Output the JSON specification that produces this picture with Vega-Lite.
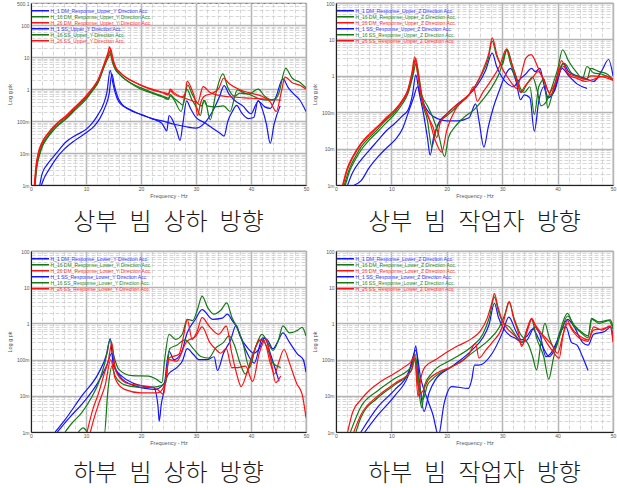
{
"$schema": "https://vega.github.io/schema/vega-lite/v6.json",
"padding": {"left": 7, "top": 0, "right": 5, "bottom": 0},
"config": {
 "font": "Liberation Sans",
 "view": {"stroke": "#333", "strokeWidth": 0.8},
 "axis": {"labelFontSize": 5, "labelColor": "#555", "titleFontSize": 5.5, "titleFontWeight": "normal", "titleColor": "#555", "domainColor": "#222", "ticks": false},
 "axisX": {"labelPadding": 1.5, "titlePadding": 1.5},
 "axisY": {"labelPadding": 2, "titlePadding": 4},
 "legend": {"orient": "none", "legendX": 0, "legendY": 5, "symbolType": "stroke", "symbolSize": 289, "symbolStrokeWidth": 1.5, "labelFontSize": 5, "labelLimit": 400, "labelOffset": 0.5, "clipHeight": 5.5, "rowPadding": -0.6, "padding": 0, "title": null},
 "title": {"font": "Noto Sans CJK KR", "fontSize": 24, "fontWeight": 300, "color": "#1a1a1a", "orient": "bottom", "offset": 12}
},
"datasets": {"d": [
{"p":1,"k":"1d","f":1.6,"v":0.001},{"p":1,"k":"1d","f":2,"v":0.0022},{"p":1,"k":"1d","f":3,"v":0.0045},{"p":1,"k":"1d","f":4.1,"v":0.0078},{"p":1,"k":"1d","f":5,"v":0.012},{"p":1,"k":"1d","f":6.2,"v":0.021},{"p":1,"k":"1d","f":8,"v":0.035},{"p":1,"k":"1d","f":10,"v":0.055},{"p":1,"k":"1d","f":11.2,"v":0.09},{"p":1,"k":"1d","f":12.2,"v":0.16},{"p":1,"k":"1d","f":13.2,"v":0.35},{"p":1,"k":"1d","f":13.8,"v":0.8},{"p":1,"k":"1d","f":14.4,"v":3.9},{"p":1,"k":"1d","f":14.9,"v":1.5},{"p":1,"k":"1d","f":15.3,"v":0.78},{"p":1,"k":"1d","f":15.9,"v":0.42},{"p":1,"k":"1d","f":17.1,"v":0.27},{"p":1,"k":"1d","f":18.5,"v":0.2},{"p":1,"k":"1d","f":20.1,"v":0.16},{"p":1,"k":"1d","f":22,"v":0.12},{"p":1,"k":"1d","f":24,"v":0.1},{"p":1,"k":"1d","f":26,"v":0.08},{"p":1,"k":"1d","f":28,"v":0.068},{"p":1,"k":"1d","f":30,"v":0.06},{"p":1,"k":"1d","f":31.5,"v":0.085},{"p":1,"k":"1d","f":33,"v":0.2},{"p":1,"k":"1d","f":34.3,"v":0.6},{"p":1,"k":"1d","f":35.1,"v":1.3},{"p":1,"k":"1d","f":36,"v":0.7},{"p":1,"k":"1d","f":37,"v":0.45},{"p":1,"k":"1d","f":38.5,"v":0.3},{"p":1,"k":"1d","f":40,"v":0.17},{"p":1,"k":"1d","f":41.3,"v":0.42},{"p":1,"k":"1d","f":42.5,"v":0.28},{"p":1,"k":"1d","f":43.5,"v":0.25},{"p":1,"k":"1d","f":44.5,"v":0.55},{"p":1,"k":"1d","f":45.8,"v":2.1},{"p":1,"k":"1d","f":46.8,"v":1.1},{"p":1,"k":"1d","f":47.8,"v":0.7},{"p":1,"k":"1d","f":48.9,"v":0.45},{"p":1,"k":"1d","f":50,"v":0.2},
{"p":1,"k":"1s","f":1.9,"v":0.001},{"p":1,"k":"1s","f":2.5,"v":0.0018},{"p":1,"k":"1s","f":3.5,"v":0.0035},{"p":1,"k":"1s","f":4.5,"v":0.0065},{"p":1,"k":"1s","f":6,"v":0.013},{"p":1,"k":"1s","f":8,"v":0.025},{"p":1,"k":"1s","f":10,"v":0.043},{"p":1,"k":"1s","f":11.5,"v":0.07},{"p":1,"k":"1s","f":12.5,"v":0.12},{"p":1,"k":"1s","f":13.5,"v":0.28},{"p":1,"k":"1s","f":14.2,"v":0.7},{"p":1,"k":"1s","f":14.7,"v":3.0},{"p":1,"k":"1s","f":15.2,"v":1.2},{"p":1,"k":"1s","f":15.8,"v":0.55},{"p":1,"k":"1s","f":16.6,"v":0.33},{"p":1,"k":"1s","f":18,"v":0.23},{"p":1,"k":"1s","f":20,"v":0.16},{"p":1,"k":"1s","f":22,"v":0.12},{"p":1,"k":"1s","f":23.8,"v":0.085},{"p":1,"k":"1s","f":24.7,"v":0.05},{"p":1,"k":"1s","f":25.1,"v":0.15},{"p":1,"k":"1s","f":25.6,"v":0.12},{"p":1,"k":"1s","f":26.5,"v":0.05},{"p":1,"k":"1s","f":27.1,"v":0.025},{"p":1,"k":"1s","f":27.6,"v":0.08},{"p":1,"k":"1s","f":28.3,"v":0.43},{"p":1,"k":"1s","f":29,"v":0.25},{"p":1,"k":"1s","f":30,"v":0.13},{"p":1,"k":"1s","f":31.5,"v":0.09},{"p":1,"k":"1s","f":33,"v":0.06},{"p":1,"k":"1s","f":34.5,"v":0.04},{"p":1,"k":"1s","f":35.1,"v":0.034},{"p":1,"k":"1s","f":35.8,"v":0.1},{"p":1,"k":"1s","f":36.6,"v":0.2},{"p":1,"k":"1s","f":37.4,"v":0.31},{"p":1,"k":"1s","f":38.3,"v":0.18},{"p":1,"k":"1s","f":39.5,"v":0.12},{"p":1,"k":"1s","f":40.5,"v":0.13},{"p":1,"k":"1s","f":41.3,"v":0.45},{"p":1,"k":"1s","f":42,"v":0.25},{"p":1,"k":"1s","f":42.8,"v":0.08},{"p":1,"k":"1s","f":43.5,"v":0.02},{"p":1,"k":"1s","f":44.2,"v":0.08},{"p":1,"k":"1s","f":45.3,"v":0.3},
{"p":1,"k":"16d","f":0.7,"v":0.001},{"p":1,"k":"16d","f":1,"v":0.0035},{"p":1,"k":"16d","f":1.5,"v":0.009},{"p":1,"k":"16d","f":2,"v":0.017},{"p":1,"k":"16d","f":3,"v":0.033},{"p":1,"k":"16d","f":4,"v":0.055},{"p":1,"k":"16d","f":5,"v":0.08},{"p":1,"k":"16d","f":6.2,"v":0.12},{"p":1,"k":"16d","f":8,"v":0.24},{"p":1,"k":"16d","f":10,"v":0.52},{"p":1,"k":"16d","f":11.2,"v":0.95},{"p":1,"k":"16d","f":12.2,"v":1.7},{"p":1,"k":"16d","f":13.4,"v":6},{"p":1,"k":"16d","f":14.3,"v":15},{"p":1,"k":"16d","f":14.8,"v":7},{"p":1,"k":"16d","f":15.3,"v":4.2},{"p":1,"k":"16d","f":16,"v":3},{"p":1,"k":"16d","f":17,"v":2.1},{"p":1,"k":"16d","f":18.3,"v":1.5},{"p":1,"k":"16d","f":20,"v":1.1},{"p":1,"k":"16d","f":22,"v":0.8},{"p":1,"k":"16d","f":24,"v":0.6},{"p":1,"k":"16d","f":25,"v":0.52},{"p":1,"k":"16d","f":25.3,"v":0.68},{"p":1,"k":"16d","f":26,"v":0.52},{"p":1,"k":"16d","f":27,"v":0.38},{"p":1,"k":"16d","f":27.6,"v":0.32},{"p":1,"k":"16d","f":28.5,"v":1.35},{"p":1,"k":"16d","f":29.3,"v":0.7},{"p":1,"k":"16d","f":30.2,"v":0.38},{"p":1,"k":"16d","f":31,"v":0.3},{"p":1,"k":"16d","f":31.6,"v":0.45},{"p":1,"k":"16d","f":32.6,"v":0.11},{"p":1,"k":"16d","f":33.5,"v":0.6},{"p":1,"k":"16d","f":34.9,"v":3.0},{"p":1,"k":"16d","f":35.8,"v":1.1},{"p":1,"k":"16d","f":37,"v":0.6},{"p":1,"k":"16d","f":38,"v":0.75},{"p":1,"k":"16d","f":39.5,"v":0.7},{"p":1,"k":"16d","f":41.3,"v":1.0},{"p":1,"k":"16d","f":42.5,"v":0.6},{"p":1,"k":"16d","f":44,"v":0.45},{"p":1,"k":"16d","f":45,"v":0.7},{"p":1,"k":"16d","f":46.3,"v":4.5},{"p":1,"k":"16d","f":47.5,"v":2.2},{"p":1,"k":"16d","f":49,"v":1.6},{"p":1,"k":"16d","f":50,"v":1.1},
{"p":1,"k":"16s","f":0.75,"v":0.001},{"p":1,"k":"16s","f":1,"v":0.003},{"p":1,"k":"16s","f":1.5,"v":0.008},{"p":1,"k":"16s","f":2,"v":0.015},{"p":1,"k":"16s","f":3,"v":0.03},{"p":1,"k":"16s","f":4,"v":0.05},{"p":1,"k":"16s","f":5,"v":0.075},{"p":1,"k":"16s","f":6.2,"v":0.11},{"p":1,"k":"16s","f":8,"v":0.22},{"p":1,"k":"16s","f":10,"v":0.48},{"p":1,"k":"16s","f":11.2,"v":0.9},{"p":1,"k":"16s","f":12.2,"v":1.6},{"p":1,"k":"16s","f":13.4,"v":5.5},{"p":1,"k":"16s","f":14.2,"v":11},{"p":1,"k":"16s","f":14.6,"v":13},{"p":1,"k":"16s","f":15,"v":6.5},{"p":1,"k":"16s","f":15.6,"v":3.8},{"p":1,"k":"16s","f":16.5,"v":2.5},{"p":1,"k":"16s","f":18,"v":1.6},{"p":1,"k":"16s","f":20,"v":1.0},{"p":1,"k":"16s","f":22,"v":0.75},{"p":1,"k":"16s","f":24,"v":0.56},{"p":1,"k":"16s","f":25,"v":0.48},{"p":1,"k":"16s","f":25.3,"v":0.62},{"p":1,"k":"16s","f":26,"v":0.47},{"p":1,"k":"16s","f":27.3,"v":0.2},{"p":1,"k":"16s","f":28.3,"v":1.0},{"p":1,"k":"16s","f":29.3,"v":0.45},{"p":1,"k":"16s","f":30.2,"v":0.25},{"p":1,"k":"16s","f":30.8,"v":0.15},{"p":1,"k":"16s","f":31.4,"v":0.45},{"p":1,"k":"16s","f":32,"v":0.3},{"p":1,"k":"16s","f":33.5,"v":0.28},{"p":1,"k":"16s","f":35,"v":0.3},{"p":1,"k":"16s","f":36.2,"v":0.2},{"p":1,"k":"16s","f":37.5,"v":0.95},{"p":1,"k":"16s","f":38.5,"v":0.8},{"p":1,"k":"16s","f":40,"v":0.65},{"p":1,"k":"16s","f":41.5,"v":0.5},{"p":1,"k":"16s","f":43,"v":0.45},{"p":1,"k":"16s","f":44.5,"v":0.5},
{"p":1,"k":"26d","f":0.6,"v":0.001},{"p":1,"k":"26d","f":0.9,"v":0.004},{"p":1,"k":"26d","f":1.3,"v":0.01},{"p":1,"k":"26d","f":1.9,"v":0.02},{"p":1,"k":"26d","f":3,"v":0.04},{"p":1,"k":"26d","f":4,"v":0.065},{"p":1,"k":"26d","f":5,"v":0.095},{"p":1,"k":"26d","f":6.2,"v":0.14},{"p":1,"k":"26d","f":8,"v":0.28},{"p":1,"k":"26d","f":10,"v":0.62},{"p":1,"k":"26d","f":11.2,"v":1.1},{"p":1,"k":"26d","f":12.2,"v":2},{"p":1,"k":"26d","f":13.4,"v":7},{"p":1,"k":"26d","f":14,"v":14},{"p":1,"k":"26d","f":14.3,"v":21},{"p":1,"k":"26d","f":14.7,"v":10},{"p":1,"k":"26d","f":15.3,"v":5},{"p":1,"k":"26d","f":16,"v":3.6},{"p":1,"k":"26d","f":17,"v":2.5},{"p":1,"k":"26d","f":18.3,"v":1.85},{"p":1,"k":"26d","f":20,"v":1.35},{"p":1,"k":"26d","f":22,"v":1.0},{"p":1,"k":"26d","f":24,"v":0.8},{"p":1,"k":"26d","f":25,"v":0.72},{"p":1,"k":"26d","f":25.3,"v":1.0},{"p":1,"k":"26d","f":26,"v":0.78},{"p":1,"k":"26d","f":27.5,"v":0.58},{"p":1,"k":"26d","f":28,"v":0.7},{"p":1,"k":"26d","f":28.4,"v":1.8},{"p":1,"k":"26d","f":29.2,"v":1.0},{"p":1,"k":"26d","f":29.8,"v":0.5},{"p":1,"k":"26d","f":30.3,"v":0.15},{"p":1,"k":"26d","f":30.8,"v":0.35},{"p":1,"k":"26d","f":31.5,"v":0.6},{"p":1,"k":"26d","f":33,"v":0.75},{"p":1,"k":"26d","f":34.2,"v":1.1},{"p":1,"k":"26d","f":35,"v":2.2},{"p":1,"k":"26d","f":36,"v":1.5},{"p":1,"k":"26d","f":38,"v":0.95},{"p":1,"k":"26d","f":40,"v":0.75},{"p":1,"k":"26d","f":42,"v":0.6},{"p":1,"k":"26d","f":43.5,"v":0.4},{"p":1,"k":"26d","f":44.6,"v":0.2},{"p":1,"k":"26d","f":45.5,"v":0.8},{"p":1,"k":"26d","f":46.2,"v":2.4},{"p":1,"k":"26d","f":47.5,"v":1.6},{"p":1,"k":"26d","f":49,"v":1.3},{"p":1,"k":"26d","f":50,"v":1.0},
{"p":1,"k":"26s","f":0.65,"v":0.001},{"p":1,"k":"26s","f":1,"v":0.004},{"p":1,"k":"26s","f":1.4,"v":0.01},{"p":1,"k":"26s","f":2,"v":0.02},{"p":1,"k":"26s","f":3,"v":0.038},{"p":1,"k":"26s","f":4,"v":0.06},{"p":1,"k":"26s","f":5,"v":0.09},{"p":1,"k":"26s","f":6.2,"v":0.13},{"p":1,"k":"26s","f":8,"v":0.26},{"p":1,"k":"26s","f":10,"v":0.58},{"p":1,"k":"26s","f":11.2,"v":1.05},{"p":1,"k":"26s","f":12.2,"v":1.9},{"p":1,"k":"26s","f":13.4,"v":6.5},{"p":1,"k":"26s","f":14.2,"v":13},{"p":1,"k":"26s","f":14.5,"v":18},{"p":1,"k":"26s","f":14.9,"v":9},{"p":1,"k":"26s","f":15.5,"v":4.5},{"p":1,"k":"26s","f":16.3,"v":3.2},{"p":1,"k":"26s","f":17.5,"v":2.2},{"p":1,"k":"26s","f":19,"v":1.6},{"p":1,"k":"26s","f":20,"v":1.3},{"p":1,"k":"26s","f":22,"v":0.95},{"p":1,"k":"26s","f":24,"v":0.76},{"p":1,"k":"26s","f":25,"v":0.66},{"p":1,"k":"26s","f":25.3,"v":0.9},{"p":1,"k":"26s","f":26,"v":0.7},{"p":1,"k":"26s","f":28,"v":0.52},{"p":1,"k":"26s","f":29.5,"v":0.42},{"p":1,"k":"26s","f":30.3,"v":0.38},{"p":1,"k":"26s","f":31.3,"v":1.2},{"p":1,"k":"26s","f":32.5,"v":0.8},{"p":1,"k":"26s","f":34,"v":0.65},{"p":1,"k":"26s","f":36,"v":0.58},{"p":1,"k":"26s","f":38,"v":0.55},{"p":1,"k":"26s","f":40,"v":0.52},{"p":1,"k":"26s","f":42,"v":0.5},{"p":1,"k":"26s","f":44,"v":0.47},{"p":1,"k":"26s","f":45.5,"v":0.45},

{"p":2,"k":"1d","f":2.1,"v":0.001},{"p":2,"k":"1d","f":3,"v":0.0022},{"p":2,"k":"1d","f":4.5,"v":0.0048},{"p":2,"k":"1d","f":6,"v":0.009},{"p":2,"k":"1d","f":7.6,"v":0.017},{"p":2,"k":"1d","f":9,"v":0.03},{"p":2,"k":"1d","f":10.6,"v":0.049},{"p":2,"k":"1d","f":12,"v":0.08},{"p":2,"k":"1d","f":13,"v":0.115},{"p":2,"k":"1d","f":13.8,"v":0.3},{"p":2,"k":"1d","f":14.4,"v":1.06},{"p":2,"k":"1d","f":15,"v":0.35},{"p":2,"k":"1d","f":15.8,"v":0.09},{"p":2,"k":"1d","f":16.5,"v":0.02},{"p":2,"k":"1d","f":17,"v":0.0066},{"p":2,"k":"1d","f":17.6,"v":0.02},{"p":2,"k":"1d","f":18.5,"v":0.05},{"p":2,"k":"1d","f":20,"v":0.09},{"p":2,"k":"1d","f":22,"v":0.17},{"p":2,"k":"1d","f":24,"v":0.3},{"p":2,"k":"1d","f":25.5,"v":0.55},{"p":2,"k":"1d","f":27,"v":1.4},{"p":2,"k":"1d","f":28.2,"v":4.2},{"p":2,"k":"1d","f":29,"v":1.8},{"p":2,"k":"1d","f":30,"v":0.9},{"p":2,"k":"1d","f":31,"v":0.6},{"p":2,"k":"1d","f":32,"v":0.5},{"p":2,"k":"1d","f":33,"v":0.75},{"p":2,"k":"1d","f":34.2,"v":1.1},{"p":2,"k":"1d","f":35.3,"v":1.6},{"p":2,"k":"1d","f":36,"v":1.3},{"p":2,"k":"1d","f":36.8,"v":1.6},{"p":2,"k":"1d","f":37.5,"v":0.6},{"p":2,"k":"1d","f":38.2,"v":0.25},{"p":2,"k":"1d","f":39,"v":0.3},{"p":2,"k":"1d","f":40,"v":0.8},{"p":2,"k":"1d","f":41,"v":2.2},{"p":2,"k":"1d","f":42,"v":1.3},{"p":2,"k":"1d","f":43.5,"v":1.0},{"p":2,"k":"1d","f":45,"v":0.85},{"p":2,"k":"1d","f":46.5,"v":0.7},{"p":2,"k":"1d","f":48,"v":1.4},{"p":2,"k":"1d","f":49.2,"v":2.8},{"p":2,"k":"1d","f":50,"v":1.0},
{"p":2,"k":"1s","f":3.3,"v":0.001},{"p":2,"k":"1s","f":4.5,"v":0.0013},{"p":2,"k":"1s","f":6,"v":0.003},{"p":2,"k":"1s","f":7.6,"v":0.006},{"p":2,"k":"1s","f":9,"v":0.01},{"p":2,"k":"1s","f":10.6,"v":0.017},{"p":2,"k":"1s","f":12,"v":0.035},{"p":2,"k":"1s","f":13,"v":0.093},{"p":2,"k":"1s","f":14,"v":0.25},{"p":2,"k":"1s","f":14.7,"v":0.5},{"p":2,"k":"1s","f":15.3,"v":0.3},{"p":2,"k":"1s","f":16,"v":0.15},{"p":2,"k":"1s","f":17,"v":0.09},{"p":2,"k":"1s","f":18.5,"v":0.065},{"p":2,"k":"1s","f":20,"v":0.058},{"p":2,"k":"1s","f":22,"v":0.058},{"p":2,"k":"1s","f":24,"v":0.07},{"p":2,"k":"1s","f":25.2,"v":0.17},{"p":2,"k":"1s","f":25.8,"v":0.06},{"p":2,"k":"1s","f":26.7,"v":0.011},{"p":2,"k":"1s","f":27.5,"v":0.04},{"p":2,"k":"1s","f":28.5,"v":0.15},{"p":2,"k":"1s","f":29.5,"v":0.4},{"p":2,"k":"1s","f":30.5,"v":1.0},{"p":2,"k":"1s","f":31.5,"v":1.6},{"p":2,"k":"1s","f":32.5,"v":0.7},{"p":2,"k":"1s","f":33.3,"v":0.22},{"p":2,"k":"1s","f":34,"v":0.3},{"p":2,"k":"1s","f":35,"v":0.25},{"p":2,"k":"1s","f":35.8,"v":0.03},{"p":2,"k":"1s","f":36.6,"v":0.2},{"p":2,"k":"1s","f":37.5,"v":0.5},{"p":2,"k":"1s","f":38.3,"v":0.25},{"p":2,"k":"1s","f":39.5,"v":0.4},{"p":2,"k":"1s","f":40.8,"v":1.6},{"p":2,"k":"1s","f":42,"v":1.0},{"p":2,"k":"1s","f":43.5,"v":0.6},{"p":2,"k":"1s","f":45.3,"v":0.45},
{"p":2,"k":"16d","f":1.5,"v":0.001},{"p":2,"k":"16d","f":2.5,"v":0.003},{"p":2,"k":"16d","f":3.5,"v":0.006},{"p":2,"k":"16d","f":4.5,"v":0.011},{"p":2,"k":"16d","f":6,"v":0.02},{"p":2,"k":"16d","f":7.6,"v":0.035},{"p":2,"k":"16d","f":9,"v":0.06},{"p":2,"k":"16d","f":10.6,"v":0.1},{"p":2,"k":"16d","f":12,"v":0.2},{"p":2,"k":"16d","f":13,"v":0.38},{"p":2,"k":"16d","f":13.8,"v":1.0},{"p":2,"k":"16d","f":14.3,"v":2.6},{"p":2,"k":"16d","f":14.8,"v":1.0},{"p":2,"k":"16d","f":15.5,"v":0.2},{"p":2,"k":"16d","f":16.5,"v":0.06},{"p":2,"k":"16d","f":17.3,"v":0.011},{"p":2,"k":"16d","f":18,"v":0.03},{"p":2,"k":"16d","f":19,"v":0.06},{"p":2,"k":"16d","f":20,"v":0.08},{"p":2,"k":"16d","f":22,"v":0.15},{"p":2,"k":"16d","f":24,"v":0.3},{"p":2,"k":"16d","f":26,"v":0.9},{"p":2,"k":"16d","f":27.5,"v":3},{"p":2,"k":"16d","f":28.2,"v":9},{"p":2,"k":"16d","f":29,"v":3.5},{"p":2,"k":"16d","f":30,"v":2},{"p":2,"k":"16d","f":30.8,"v":5},{"p":2,"k":"16d","f":31.5,"v":2.2},{"p":2,"k":"16d","f":32.5,"v":0.8},{"p":2,"k":"16d","f":33.5,"v":0.35},{"p":2,"k":"16d","f":34.5,"v":0.6},{"p":2,"k":"16d","f":35.5,"v":0.9},{"p":2,"k":"16d","f":36.3,"v":0.4},{"p":2,"k":"16d","f":37,"v":0.15},{"p":2,"k":"16d","f":38,"v":0.2},{"p":2,"k":"16d","f":39,"v":0.5},{"p":2,"k":"16d","f":40,"v":1.5},{"p":2,"k":"16d","f":40.9,"v":5.2},{"p":2,"k":"16d","f":42,"v":2.5},{"p":2,"k":"16d","f":43.5,"v":1.2},{"p":2,"k":"16d","f":44.5,"v":0.85},{"p":2,"k":"16d","f":45.3,"v":1.8},{"p":2,"k":"16d","f":46.5,"v":1.2},{"p":2,"k":"16d","f":48,"v":1.1},{"p":2,"k":"16d","f":50,"v":0.8},
{"p":2,"k":"16s","f":1.7,"v":0.001},{"p":2,"k":"16s","f":2.5,"v":0.0025},{"p":2,"k":"16s","f":3.5,"v":0.005},{"p":2,"k":"16s","f":4.5,"v":0.009},{"p":2,"k":"16s","f":6,"v":0.017},{"p":2,"k":"16s","f":7.6,"v":0.03},{"p":2,"k":"16s","f":9,"v":0.05},{"p":2,"k":"16s","f":10.6,"v":0.088},{"p":2,"k":"16s","f":12,"v":0.17},{"p":2,"k":"16s","f":13,"v":0.33},{"p":2,"k":"16s","f":13.8,"v":0.9},{"p":2,"k":"16s","f":14.5,"v":2.2},{"p":2,"k":"16s","f":15,"v":0.9},{"p":2,"k":"16s","f":15.5,"v":0.3},{"p":2,"k":"16s","f":16.5,"v":0.15},{"p":2,"k":"16s","f":17.5,"v":0.07},{"p":2,"k":"16s","f":18.5,"v":0.025},{"p":2,"k":"16s","f":19.6,"v":0.006},{"p":2,"k":"16s","f":20.3,"v":0.02},{"p":2,"k":"16s","f":21.5,"v":0.04},{"p":2,"k":"16s","f":23,"v":0.07},{"p":2,"k":"16s","f":25,"v":0.12},{"p":2,"k":"16s","f":26.5,"v":0.22},{"p":2,"k":"16s","f":28,"v":0.45},{"p":2,"k":"16s","f":29.5,"v":1.2},{"p":2,"k":"16s","f":30.9,"v":5.3},{"p":2,"k":"16s","f":31.8,"v":2},{"p":2,"k":"16s","f":32.7,"v":0.8},{"p":2,"k":"16s","f":33.3,"v":0.45},{"p":2,"k":"16s","f":34,"v":0.35},{"p":2,"k":"16s","f":35,"v":0.5},{"p":2,"k":"16s","f":35.8,"v":0.085},{"p":2,"k":"16s","f":36.6,"v":0.5},{"p":2,"k":"16s","f":37.6,"v":0.8},{"p":2,"k":"16s","f":38.2,"v":0.13},{"p":2,"k":"16s","f":39,"v":0.3},{"p":2,"k":"16s","f":40.3,"v":1.5},{"p":2,"k":"16s","f":41.2,"v":2.2},{"p":2,"k":"16s","f":42.5,"v":1.2},{"p":2,"k":"16s","f":44,"v":0.9},{"p":2,"k":"16s","f":45.3,"v":0.8},{"p":2,"k":"16s","f":46,"v":1.6},{"p":2,"k":"16s","f":47.5,"v":1.3},{"p":2,"k":"16s","f":49,"v":1.1},{"p":2,"k":"16s","f":50,"v":0.75},
{"p":2,"k":"26d","f":1.2,"v":0.001},{"p":2,"k":"26d","f":2,"v":0.0028},{"p":2,"k":"26d","f":3,"v":0.006},{"p":2,"k":"26d","f":4.5,"v":0.014},{"p":2,"k":"26d","f":6,"v":0.025},{"p":2,"k":"26d","f":7.6,"v":0.042},{"p":2,"k":"26d","f":9,"v":0.07},{"p":2,"k":"26d","f":10.6,"v":0.115},{"p":2,"k":"26d","f":12,"v":0.22},{"p":2,"k":"26d","f":13,"v":0.43},{"p":2,"k":"26d","f":13.7,"v":1.2},{"p":2,"k":"26d","f":14.2,"v":3.3},{"p":2,"k":"26d","f":14.8,"v":1.0},{"p":2,"k":"26d","f":15.5,"v":0.22},{"p":2,"k":"26d","f":16.7,"v":0.075},{"p":2,"k":"26d","f":17.9,"v":0.017},{"p":2,"k":"26d","f":19.1,"v":0.008},{"p":2,"k":"26d","f":20,"v":0.032},{"p":2,"k":"26d","f":21.5,"v":0.115},{"p":2,"k":"26d","f":23,"v":0.22},{"p":2,"k":"26d","f":24.5,"v":0.37},{"p":2,"k":"26d","f":26.4,"v":1.3},{"p":2,"k":"26d","f":27.6,"v":4.2},{"p":2,"k":"26d","f":28.2,"v":11},{"p":2,"k":"26d","f":29.1,"v":3.5},{"p":2,"k":"26d","f":30,"v":1.6},{"p":2,"k":"26d","f":31,"v":0.9},{"p":2,"k":"26d","f":32,"v":0.55},{"p":2,"k":"26d","f":32.6,"v":0.45},{"p":2,"k":"26d","f":33.3,"v":0.9},{"p":2,"k":"26d","f":34.3,"v":3.1},{"p":2,"k":"26d","f":35.2,"v":3.8},{"p":2,"k":"26d","f":36.6,"v":1.5},{"p":2,"k":"26d","f":37.8,"v":0.6},{"p":2,"k":"26d","f":38.7,"v":0.3},{"p":2,"k":"26d","f":39.7,"v":0.7},{"p":2,"k":"26d","f":40.7,"v":2.6},{"p":2,"k":"26d","f":41.8,"v":1.2},{"p":2,"k":"26d","f":43.5,"v":0.95},{"p":2,"k":"26d","f":45,"v":0.8},{"p":2,"k":"26d","f":46,"v":1.0},{"p":2,"k":"26d","f":48,"v":0.95},{"p":2,"k":"26d","f":50,"v":0.75},
{"p":2,"k":"26s","f":1.3,"v":0.001},{"p":2,"k":"26s","f":2,"v":0.0025},{"p":2,"k":"26s","f":3,"v":0.0055},{"p":2,"k":"26s","f":4.5,"v":0.013},{"p":2,"k":"26s","f":6,"v":0.023},{"p":2,"k":"26s","f":7.6,"v":0.04},{"p":2,"k":"26s","f":9,"v":0.065},{"p":2,"k":"26s","f":10.6,"v":0.11},{"p":2,"k":"26s","f":12,"v":0.2},{"p":2,"k":"26s","f":13,"v":0.4},{"p":2,"k":"26s","f":13.8,"v":1.3},{"p":2,"k":"26s","f":14.4,"v":3.0},{"p":2,"k":"26s","f":15,"v":0.8},{"p":2,"k":"26s","f":15.5,"v":0.27},{"p":2,"k":"26s","f":16.4,"v":0.09},{"p":2,"k":"26s","f":17.5,"v":0.04},{"p":2,"k":"26s","f":18.2,"v":0.02},{"p":2,"k":"26s","f":18.8,"v":0.05},{"p":2,"k":"26s","f":20,"v":0.09},{"p":2,"k":"26s","f":22,"v":0.17},{"p":2,"k":"26s","f":24,"v":0.3},{"p":2,"k":"26s","f":24.8,"v":0.5},{"p":2,"k":"26s","f":25.5,"v":0.2},{"p":2,"k":"26s","f":26.5,"v":0.35},{"p":2,"k":"26s","f":28,"v":0.75},{"p":2,"k":"26s","f":29.5,"v":1.8},{"p":2,"k":"26s","f":30.8,"v":5.5},{"p":2,"k":"26s","f":31.6,"v":2.5},{"p":2,"k":"26s","f":32.5,"v":0.9},{"p":2,"k":"26s","f":33.3,"v":0.35},{"p":2,"k":"26s","f":34,"v":0.5},{"p":2,"k":"26s","f":35.5,"v":0.9},{"p":2,"k":"26s","f":36.5,"v":1.3},{"p":2,"k":"26s","f":37.5,"v":0.8},{"p":2,"k":"26s","f":38.5,"v":0.35},{"p":2,"k":"26s","f":39.5,"v":0.6},{"p":2,"k":"26s","f":41,"v":1.8},{"p":2,"k":"26s","f":42.2,"v":1.0},{"p":2,"k":"26s","f":43.5,"v":0.85},{"p":2,"k":"26s","f":45,"v":0.7},{"p":2,"k":"26s","f":47,"v":0.85},{"p":2,"k":"26s","f":48.5,"v":1.0},{"p":2,"k":"26s","f":50,"v":0.8},

{"p":3,"k":"1d","f":4.4,"v":0.001},{"p":3,"k":"1d","f":6.2,"v":0.0022},{"p":3,"k":"1d","f":9.2,"v":0.0098},{"p":3,"k":"1d","f":12.3,"v":0.043},{"p":3,"k":"1d","f":13.8,"v":0.15},{"p":3,"k":"1d","f":14.4,"v":0.38},{"p":3,"k":"1d","f":15,"v":0.066},{"p":3,"k":"1d","f":16.5,"v":0.035},{"p":3,"k":"1d","f":18.4,"v":0.023},{"p":3,"k":"1d","f":20.8,"v":0.018},{"p":3,"k":"1d","f":22.3,"v":0.017},{"p":3,"k":"1d","f":23.1,"v":0.005},{"p":3,"k":"1d","f":23.3,"v":0.002},{"p":3,"k":"1d","f":23.7,"v":0.006},{"p":3,"k":"1d","f":24.1,"v":0.012},{"p":3,"k":"1d","f":25.1,"v":0.17},{"p":3,"k":"1d","f":26,"v":0.1},{"p":3,"k":"1d","f":27.3,"v":0.15},{"p":3,"k":"1d","f":28.4,"v":0.55},{"p":3,"k":"1d","f":29.9,"v":1.3},{"p":3,"k":"1d","f":31.1,"v":2.4},{"p":3,"k":"1d","f":33,"v":1.3},{"p":3,"k":"1d","f":34.8,"v":1.4},{"p":3,"k":"1d","f":35.7,"v":1.8},{"p":3,"k":"1d","f":36.6,"v":1.2},{"p":3,"k":"1d","f":37.5,"v":0.75},{"p":3,"k":"1d","f":39,"v":0.19},{"p":3,"k":"1d","f":40.6,"v":0.08},{"p":3,"k":"1d","f":42.1,"v":0.4},{"p":3,"k":"1d","f":43,"v":0.35},{"p":3,"k":"1d","f":44,"v":0.2},{"p":3,"k":"1d","f":44.8,"v":0.3},{"p":3,"k":"1d","f":45.8,"v":0.55},{"p":3,"k":"1d","f":47,"v":0.3},{"p":3,"k":"1d","f":48.5,"v":0.14},{"p":3,"k":"1d","f":49.5,"v":0.1},{"p":3,"k":"1d","f":50,"v":0.045},
{"p":3,"k":"1s","f":4.8,"v":0.001},{"p":3,"k":"1s","f":7,"v":0.0025},{"p":3,"k":"1s","f":9.5,"v":0.0065},{"p":3,"k":"1s","f":12.3,"v":0.025},{"p":3,"k":"1s","f":13.8,"v":0.07},{"p":3,"k":"1s","f":14.7,"v":0.15},{"p":3,"k":"1s","f":15.3,"v":0.06},{"p":3,"k":"1s","f":16.5,"v":0.03},{"p":3,"k":"1s","f":18.4,"v":0.02},{"p":3,"k":"1s","f":20.8,"v":0.016},{"p":3,"k":"1s","f":22.5,"v":0.015},{"p":3,"k":"1s","f":24,"v":0.02},{"p":3,"k":"1s","f":25,"v":0.04},{"p":3,"k":"1s","f":26.5,"v":0.06},{"p":3,"k":"1s","f":27.5,"v":0.09},{"p":3,"k":"1s","f":28.4,"v":0.2},{"p":3,"k":"1s","f":29.5,"v":0.14},{"p":3,"k":"1s","f":30.5,"v":0.1},{"p":3,"k":"1s","f":32,"v":0.1},{"p":3,"k":"1s","f":33.3,"v":0.12},{"p":3,"k":"1s","f":33.9,"v":0.05},{"p":3,"k":"1s","f":35,"v":0.15},{"p":3,"k":"1s","f":36.3,"v":0.35},{"p":3,"k":"1s","f":37.3,"v":0.9},{"p":3,"k":"1s","f":38,"v":0.45},{"p":3,"k":"1s","f":39.5,"v":0.2},{"p":3,"k":"1s","f":40.5,"v":0.15},{"p":3,"k":"1s","f":41.5,"v":0.2},{"p":3,"k":"1s","f":42.5,"v":0.4},{"p":3,"k":"1s","f":43.5,"v":0.15},{"p":3,"k":"1s","f":44.5,"v":0.05},{"p":3,"k":"1s","f":45.1,"v":0.025},
{"p":3,"k":"16d","f":6.2,"v":0.001},{"p":3,"k":"16d","f":7.5,"v":0.0018},{"p":3,"k":"16d","f":9.2,"v":0.0034},{"p":3,"k":"16d","f":11,"v":0.009},{"p":3,"k":"16d","f":12.3,"v":0.023},{"p":3,"k":"16d","f":13.5,"v":0.09},{"p":3,"k":"16d","f":14.4,"v":0.36},{"p":3,"k":"16d","f":15.1,"v":0.12},{"p":3,"k":"16d","f":16,"v":0.053},{"p":3,"k":"16d","f":18.4,"v":0.036},{"p":3,"k":"16d","f":21.4,"v":0.035},{"p":3,"k":"16d","f":22.9,"v":0.028},{"p":3,"k":"16d","f":23.8,"v":0.023},{"p":3,"k":"16d","f":24.3,"v":0.1},{"p":3,"k":"16d","f":25.1,"v":0.5},{"p":3,"k":"16d","f":26.3,"v":0.36},{"p":3,"k":"16d","f":27.5,"v":0.5},{"p":3,"k":"16d","f":28.4,"v":1.3},{"p":3,"k":"16d","f":29.4,"v":1.2},{"p":3,"k":"16d","f":30.3,"v":2.5},{"p":3,"k":"16d","f":31.1,"v":5.7},{"p":3,"k":"16d","f":32.2,"v":2.6},{"p":3,"k":"16d","f":33.3,"v":1.8},{"p":3,"k":"16d","f":34.5,"v":2.3},{"p":3,"k":"16d","f":35.6,"v":3.7},{"p":3,"k":"16d","f":36.5,"v":1.5},{"p":3,"k":"16d","f":37.3,"v":0.85},{"p":3,"k":"16d","f":38.5,"v":0.3},{"p":3,"k":"16d","f":39.7,"v":0.06},{"p":3,"k":"16d","f":40.9,"v":0.24},{"p":3,"k":"16d","f":42,"v":0.5},{"p":3,"k":"16d","f":43,"v":0.3},{"p":3,"k":"16d","f":44,"v":0.18},{"p":3,"k":"16d","f":45,"v":0.35},{"p":3,"k":"16d","f":45.8,"v":0.85},{"p":3,"k":"16d","f":47,"v":0.55},{"p":3,"k":"16d","f":48.5,"v":0.65},{"p":3,"k":"16d","f":49.3,"v":0.78},{"p":3,"k":"16d","f":50,"v":0.45},
{"p":3,"k":"16s","f":8.2,"v":0.0008},{"p":3,"k":"16s","f":9.5,"v":0.0013},{"p":3,"k":"16s","f":10.8,"v":0.0008},{"p":3,"k":"16s","f":13.3,"v":0.0008},{"p":3,"k":"16s","f":14,"v":0.015},{"p":3,"k":"16s","f":14.7,"v":0.065},{"p":3,"k":"16s","f":15.3,"v":0.035},{"p":3,"k":"16s","f":16.5,"v":0.022},{"p":3,"k":"16s","f":18.5,"v":0.018},{"p":3,"k":"16s","f":21,"v":0.017},{"p":3,"k":"16s","f":23,"v":0.018},{"p":3,"k":"16s","f":24.5,"v":0.023},{"p":3,"k":"16s","f":25.2,"v":0.2},{"p":3,"k":"16s","f":26.5,"v":0.25},{"p":3,"k":"16s","f":28,"v":0.35},{"p":3,"k":"16s","f":29.5,"v":0.2},{"p":3,"k":"16s","f":31,"v":0.12},{"p":3,"k":"16s","f":32.3,"v":0.11},{"p":3,"k":"16s","f":33.6,"v":0.21},{"p":3,"k":"16s","f":35,"v":0.3},{"p":3,"k":"16s","f":36,"v":0.45},{"p":3,"k":"16s","f":37,"v":0.25},{"p":3,"k":"16s","f":38,"v":0.08},{"p":3,"k":"16s","f":39,"v":0.04},{"p":3,"k":"16s","f":40,"v":0.1},{"p":3,"k":"16s","f":41,"v":0.25},{"p":3,"k":"16s","f":42,"v":0.36},{"p":3,"k":"16s","f":43,"v":0.2},{"p":3,"k":"16s","f":44,"v":0.08},{"p":3,"k":"16s","f":45.4,"v":0.06},
{"p":3,"k":"26d","f":10.2,"v":0.001},{"p":3,"k":"26d","f":11.2,"v":0.004},{"p":3,"k":"26d","f":12.3,"v":0.012},{"p":3,"k":"26d","f":13.3,"v":0.04},{"p":3,"k":"26d","f":14.1,"v":0.1},{"p":3,"k":"26d","f":14.7,"v":0.29},{"p":3,"k":"26d","f":15.3,"v":0.053},{"p":3,"k":"26d","f":17.2,"v":0.023},{"p":3,"k":"26d","f":19,"v":0.02},{"p":3,"k":"26d","f":21.4,"v":0.018},{"p":3,"k":"26d","f":23,"v":0.015},{"p":3,"k":"26d","f":24.1,"v":0.011},{"p":3,"k":"26d","f":24.6,"v":0.04},{"p":3,"k":"26d","f":25.1,"v":0.11},{"p":3,"k":"26d","f":26.9,"v":0.14},{"p":3,"k":"26d","f":27.8,"v":0.5},{"p":3,"k":"26d","f":28.4,"v":1.3},{"p":3,"k":"26d","f":29.3,"v":0.36},{"p":3,"k":"26d","f":30.2,"v":0.6},{"p":3,"k":"26d","f":31.1,"v":1.44},{"p":3,"k":"26d","f":32.5,"v":0.8},{"p":3,"k":"26d","f":34.1,"v":0.5},{"p":3,"k":"26d","f":35.5,"v":0.84},{"p":3,"k":"26d","f":36.5,"v":0.15},{"p":3,"k":"26d","f":37.5,"v":0.035},{"p":3,"k":"26d","f":38.2,"v":0.018},{"p":3,"k":"26d","f":39.2,"v":0.04},{"p":3,"k":"26d","f":40.5,"v":0.15},{"p":3,"k":"26d","f":41.5,"v":0.35},{"p":3,"k":"26d","f":42.5,"v":0.3},{"p":3,"k":"26d","f":43.5,"v":0.08},{"p":3,"k":"26d","f":44.3,"v":0.04},{"p":3,"k":"26d","f":45,"v":0.08},{"p":3,"k":"26d","f":46,"v":0.19},{"p":3,"k":"26d","f":47,"v":0.08},{"p":3,"k":"26d","f":48.3,"v":0.022},{"p":3,"k":"26d","f":49.3,"v":0.011},{"p":3,"k":"26d","f":50,"v":0.0025},
{"p":3,"k":"26s","f":10.8,"v":0.001},{"p":3,"k":"26s","f":11.5,"v":0.0025},{"p":3,"k":"26s","f":12.3,"v":0.006},{"p":3,"k":"26s","f":13.5,"v":0.02},{"p":3,"k":"26s","f":14.5,"v":0.1},{"p":3,"k":"26s","f":15.3,"v":0.03},{"p":3,"k":"26s","f":17,"v":0.015},{"p":3,"k":"26s","f":20,"v":0.012},{"p":3,"k":"26s","f":23,"v":0.012},{"p":3,"k":"26s","f":24.3,"v":0.02},{"p":3,"k":"26s","f":25.1,"v":0.1},{"p":3,"k":"26s","f":26.5,"v":0.09},{"p":3,"k":"26s","f":28.2,"v":0.3},{"p":3,"k":"26s","f":30,"v":0.45},{"p":3,"k":"26s","f":31.1,"v":0.8},{"p":3,"k":"26s","f":32.5,"v":0.3},{"p":3,"k":"26s","f":33.5,"v":0.2},{"p":3,"k":"26s","f":34.5,"v":0.15},{"p":3,"k":"26s","f":35.5,"v":0.2},{"p":3,"k":"26s","f":36.5,"v":0.06},{"p":3,"k":"26s","f":37.5,"v":0.06},{"p":3,"k":"26s","f":39,"v":0.066},{"p":3,"k":"26s","f":40.3,"v":0.025},{"p":3,"k":"26s","f":41.5,"v":0.15},{"p":3,"k":"26s","f":42.7,"v":0.36},{"p":3,"k":"26s","f":43.6,"v":0.1},{"p":3,"k":"26s","f":44.5,"v":0.023},{"p":3,"k":"26s","f":45.4,"v":0.035},

{"p":4,"k":"1d","f":4.5,"v":0.001},{"p":4,"k":"1d","f":7.6,"v":0.005},{"p":4,"k":"1d","f":10.6,"v":0.0146},{"p":4,"k":"1d","f":13,"v":0.042},{"p":4,"k":"1d","f":14,"v":0.12},{"p":4,"k":"1d","f":14.4,"v":0.24},{"p":4,"k":"1d","f":15,"v":0.03},{"p":4,"k":"1d","f":15.9,"v":0.0037},{"p":4,"k":"1d","f":16.8,"v":0.012},{"p":4,"k":"1d","f":17.9,"v":0.027},{"p":4,"k":"1d","f":20.9,"v":0.064},{"p":4,"k":"1d","f":24.5,"v":0.18},{"p":4,"k":"1d","f":26.5,"v":0.4},{"p":4,"k":"1d","f":27.6,"v":0.9},{"p":4,"k":"1d","f":28.6,"v":3.6},{"p":4,"k":"1d","f":29.3,"v":1.5},{"p":4,"k":"1d","f":30.3,"v":0.7},{"p":4,"k":"1d","f":31.5,"v":0.45},{"p":4,"k":"1d","f":32.5,"v":0.38},{"p":4,"k":"1d","f":33.5,"v":0.3},{"p":4,"k":"1d","f":34.5,"v":0.35},{"p":4,"k":"1d","f":35.9,"v":0.8},{"p":4,"k":"1d","f":36.8,"v":0.5},{"p":4,"k":"1d","f":37.9,"v":0.12},{"p":4,"k":"1d","f":38.8,"v":0.15},{"p":4,"k":"1d","f":40,"v":0.35},{"p":4,"k":"1d","f":41.8,"v":1.3},{"p":4,"k":"1d","f":43,"v":0.8},{"p":4,"k":"1d","f":44.5,"v":0.3},{"p":4,"k":"1d","f":45.5,"v":0.25},{"p":4,"k":"1d","f":46.5,"v":0.5},{"p":4,"k":"1d","f":48.5,"v":0.6},{"p":4,"k":"1d","f":49.6,"v":0.8},{"p":4,"k":"1d","f":50,"v":0.45},
{"p":4,"k":"1s","f":5.2,"v":0.001},{"p":4,"k":"1s","f":7.6,"v":0.003},{"p":4,"k":"1s","f":10.6,"v":0.01},{"p":4,"k":"1s","f":13,"v":0.035},{"p":4,"k":"1s","f":14.4,"v":0.18},{"p":4,"k":"1s","f":15.3,"v":0.03},{"p":4,"k":"1s","f":16.5,"v":0.008},{"p":4,"k":"1s","f":17.5,"v":0.003},{"p":4,"k":"1s","f":18.5,"v":0.0008},{"p":4,"k":"1s","f":19.5,"v":0.006},{"p":4,"k":"1s","f":20.9,"v":0.018},{"p":4,"k":"1s","f":23.9,"v":0.016},{"p":4,"k":"1s","f":24.5,"v":0.028},{"p":4,"k":"1s","f":25,"v":0.07},{"p":4,"k":"1s","f":25.8,"v":0.07},{"p":4,"k":"1s","f":28.2,"v":0.15},{"p":4,"k":"1s","f":30,"v":0.53},{"p":4,"k":"1s","f":31.2,"v":1.5},{"p":4,"k":"1s","f":32.5,"v":0.6},{"p":4,"k":"1s","f":33.5,"v":0.35},{"p":4,"k":"1s","f":34.5,"v":0.45},{"p":4,"k":"1s","f":35.5,"v":0.7},{"p":4,"k":"1s","f":36.5,"v":0.4},{"p":4,"k":"1s","f":37.5,"v":0.2},{"p":4,"k":"1s","f":38.5,"v":0.12},{"p":4,"k":"1s","f":39.5,"v":0.2},{"p":4,"k":"1s","f":40.5,"v":0.6},{"p":4,"k":"1s","f":41.5,"v":0.8},{"p":4,"k":"1s","f":42.5,"v":0.3},{"p":4,"k":"1s","f":43.5,"v":0.25},{"p":4,"k":"1s","f":44.5,"v":0.12},{"p":4,"k":"1s","f":45.5,"v":0.05},
{"p":4,"k":"16d","f":2.6,"v":0.001},{"p":4,"k":"16d","f":4.5,"v":0.005},{"p":4,"k":"16d","f":7.6,"v":0.014},{"p":4,"k":"16d","f":10.6,"v":0.03},{"p":4,"k":"16d","f":13.6,"v":0.064},{"p":4,"k":"16d","f":14.3,"v":0.14},{"p":4,"k":"16d","f":15,"v":0.012},{"p":4,"k":"16d","f":15.5,"v":0.0046},{"p":4,"k":"16d","f":16,"v":0.02},{"p":4,"k":"16d","f":17.3,"v":0.042},{"p":4,"k":"16d","f":20.9,"v":0.1},{"p":4,"k":"16d","f":24.5,"v":0.23},{"p":4,"k":"16d","f":26.5,"v":0.5},{"p":4,"k":"16d","f":27.7,"v":1.5},{"p":4,"k":"16d","f":28.6,"v":5.4},{"p":4,"k":"16d","f":29.3,"v":2.2},{"p":4,"k":"16d","f":30.3,"v":1.0},{"p":4,"k":"16d","f":31.3,"v":0.8},{"p":4,"k":"16d","f":32.5,"v":0.45},{"p":4,"k":"16d","f":33.6,"v":0.3},{"p":4,"k":"16d","f":34.5,"v":0.7},{"p":4,"k":"16d","f":35.3,"v":1.3},{"p":4,"k":"16d","f":36.2,"v":0.4},{"p":4,"k":"16d","f":37.5,"v":0.12},{"p":4,"k":"16d","f":38.4,"v":0.029},{"p":4,"k":"16d","f":39.2,"v":0.1},{"p":4,"k":"16d","f":40.3,"v":0.5},{"p":4,"k":"16d","f":41.8,"v":1.9},{"p":4,"k":"16d","f":42.8,"v":0.9},{"p":4,"k":"16d","f":44,"v":0.6},{"p":4,"k":"16d","f":45.5,"v":0.4},{"p":4,"k":"16d","f":46.1,"v":1.37},{"p":4,"k":"16d","f":47.5,"v":1.1},{"p":4,"k":"16d","f":49.5,"v":1.25},{"p":4,"k":"16d","f":50,"v":0.8},
{"p":4,"k":"16s","f":3.6,"v":0.001},{"p":4,"k":"16s","f":4.5,"v":0.0025},{"p":4,"k":"16s","f":7.6,"v":0.009},{"p":4,"k":"16s","f":10.6,"v":0.02},{"p":4,"k":"16s","f":13.6,"v":0.05},{"p":4,"k":"16s","f":14.3,"v":0.11},{"p":4,"k":"16s","f":15.2,"v":0.015},{"p":4,"k":"16s","f":15.7,"v":0.008},{"p":4,"k":"16s","f":16.5,"v":0.02},{"p":4,"k":"16s","f":17.3,"v":0.028},{"p":4,"k":"16s","f":22.1,"v":0.08},{"p":4,"k":"16s","f":25.2,"v":0.18},{"p":4,"k":"16s","f":27.6,"v":0.35},{"p":4,"k":"16s","f":29.5,"v":0.8},{"p":4,"k":"16s","f":30.5,"v":1.8},{"p":4,"k":"16s","f":31.2,"v":3.9},{"p":4,"k":"16s","f":32.2,"v":1.3},{"p":4,"k":"16s","f":33.3,"v":0.5},{"p":4,"k":"16s","f":34.2,"v":0.35},{"p":4,"k":"16s","f":34.8,"v":0.25},{"p":4,"k":"16s","f":35.5,"v":0.12},{"p":4,"k":"16s","f":36.2,"v":0.052},{"p":4,"k":"16s","f":37,"v":0.3},{"p":4,"k":"16s","f":37.7,"v":1.0},{"p":4,"k":"16s","f":38.5,"v":0.4},{"p":4,"k":"16s","f":39.5,"v":0.2},{"p":4,"k":"16s","f":40.5,"v":0.5},{"p":4,"k":"16s","f":41.8,"v":1.6},{"p":4,"k":"16s","f":43,"v":0.9},{"p":4,"k":"16s","f":44.5,"v":0.55},{"p":4,"k":"16s","f":45.5,"v":0.45},{"p":4,"k":"16s","f":46.2,"v":1.3},{"p":4,"k":"16s","f":47.5,"v":1.0},{"p":4,"k":"16s","f":49.3,"v":1.2},{"p":4,"k":"16s","f":50,"v":0.7},
{"p":4,"k":"26d","f":2.1,"v":0.001},{"p":4,"k":"26d","f":3,"v":0.0035},{"p":4,"k":"26d","f":4.5,"v":0.0078},{"p":4,"k":"26d","f":6,"v":0.014},{"p":4,"k":"26d","f":7.6,"v":0.022},{"p":4,"k":"26d","f":10.6,"v":0.042},{"p":4,"k":"26d","f":12.5,"v":0.065},{"p":4,"k":"26d","f":13.6,"v":0.09},{"p":4,"k":"26d","f":14.2,"v":0.13},{"p":4,"k":"26d","f":14.8,"v":0.0095},{"p":4,"k":"26d","f":15.3,"v":0.03},{"p":4,"k":"26d","f":16.1,"v":0.064},{"p":4,"k":"26d","f":18,"v":0.1},{"p":4,"k":"26d","f":19.7,"v":0.15},{"p":4,"k":"26d","f":22,"v":0.24},{"p":4,"k":"26d","f":24.5,"v":0.38},{"p":4,"k":"26d","f":26,"v":0.6},{"p":4,"k":"26d","f":27.3,"v":1.4},{"p":4,"k":"26d","f":28.2,"v":4},{"p":4,"k":"26d","f":28.6,"v":6.7},{"p":4,"k":"26d","f":29.2,"v":3.0},{"p":4,"k":"26d","f":30,"v":1.2},{"p":4,"k":"26d","f":31,"v":0.7},{"p":4,"k":"26d","f":32,"v":0.5},{"p":4,"k":"26d","f":33,"v":0.35},{"p":4,"k":"26d","f":33.6,"v":0.25},{"p":4,"k":"26d","f":34.5,"v":0.7},{"p":4,"k":"26d","f":35.3,"v":1.37},{"p":4,"k":"26d","f":36,"v":0.9},{"p":4,"k":"26d","f":37,"v":0.55},{"p":4,"k":"26d","f":38,"v":0.3},{"p":4,"k":"26d","f":39,"v":0.18},{"p":4,"k":"26d","f":40.3,"v":0.11},{"p":4,"k":"26d","f":41,"v":0.5},{"p":4,"k":"26d","f":41.8,"v":1.2},{"p":4,"k":"26d","f":42.5,"v":0.7},{"p":4,"k":"26d","f":43.5,"v":0.45},{"p":4,"k":"26d","f":44.5,"v":0.35},{"p":4,"k":"26d","f":45.5,"v":0.32},{"p":4,"k":"26d","f":46.5,"v":0.8},{"p":4,"k":"26d","f":48,"v":0.65},{"p":4,"k":"26d","f":49.5,"v":0.85},{"p":4,"k":"26d","f":50,"v":0.4},
{"p":4,"k":"26s","f":3.2,"v":0.001},{"p":4,"k":"26s","f":4.5,"v":0.003},{"p":4,"k":"26s","f":7.6,"v":0.01},{"p":4,"k":"26s","f":10.6,"v":0.022},{"p":4,"k":"26s","f":13.6,"v":0.05},{"p":4,"k":"26s","f":14.2,"v":0.1},{"p":4,"k":"26s","f":14.8,"v":0.02},{"p":4,"k":"26s","f":15.3,"v":0.012},{"p":4,"k":"26s","f":16.7,"v":0.028},{"p":4,"k":"26s","f":18.5,"v":0.045},{"p":4,"k":"26s","f":20.9,"v":0.064},{"p":4,"k":"26s","f":23.9,"v":0.13},{"p":4,"k":"26s","f":25.2,"v":0.28},{"p":4,"k":"26s","f":25.8,"v":0.11},{"p":4,"k":"26s","f":27,"v":0.18},{"p":4,"k":"26s","f":28.2,"v":0.3},{"p":4,"k":"26s","f":30,"v":0.8},{"p":4,"k":"26s","f":30.8,"v":2.5},{"p":4,"k":"26s","f":31.3,"v":4},{"p":4,"k":"26s","f":32,"v":1.5},{"p":4,"k":"26s","f":33,"v":0.5},{"p":4,"k":"26s","f":33.5,"v":0.23},{"p":4,"k":"26s","f":34.5,"v":0.6},{"p":4,"k":"26s","f":35.3,"v":1.3},{"p":4,"k":"26s","f":36.2,"v":0.7},{"p":4,"k":"26s","f":37.5,"v":0.45},{"p":4,"k":"26s","f":39,"v":0.25},{"p":4,"k":"26s","f":40,"v":0.15},{"p":4,"k":"26s","f":41,"v":0.5},{"p":4,"k":"26s","f":41.8,"v":1.0},{"p":4,"k":"26s","f":43,"v":0.6},{"p":4,"k":"26s","f":44.5,"v":0.4},{"p":4,"k":"26s","f":45.5,"v":0.35},{"p":4,"k":"26s","f":46.5,"v":0.65},{"p":4,"k":"26s","f":48,"v":0.7},{"p":4,"k":"26s","f":49.5,"v":0.8},{"p":4,"k":"26s","f":50,"v":0.3}
]},
"resolve": {"scale": {"color": "independent"}, "legend": {"color": "independent"}},
"spacing": 13,
"vconcat": [
{"hconcat": [
 {"width": 275, "height": 182, "data": {"name": "d"}, "transform": [{"filter": "datum.p == 1"}],
  "title": {"text": "상부\u2002빔\u2002상하\u2002방향"},
  "mark": {"type": "line", "strokeWidth": 1.2, "clip": true, "interpolate": "monotone"},
  "encoding": {
   "x": {"field": "f", "type": "quantitative", "scale": {"domain": [0, 50], "nice": false}, "axis": {"title": "Frequency - Hz", "values": [0,2,4,6,8,10,12,14,16,18,20,22,24,26,28,30,32,34,36,38,40,42,44,46,48,50], "labelExpr": "datum.value % 10 == 0 ? datum.label : ''", "labelFlush": false, "gridColor": {"condition": {"test": "datum.value % 10 == 0", "value": "#b4b4b4"}, "value": "#cdcdcd"}, "gridWidth": {"condition": {"test": "datum.value % 10 == 0", "value": 1.5}, "value": 0.8}, "gridDash": {"condition": {"test": "datum.value % 10 == 0", "value": []}, "value": [4, 2]}}},
   "y": {"field": "v", "type": "quantitative", "scale": {"type": "log", "domain": [0.001, 500], "nice": false}, "axis": {"title": "Log g pk", "values": [0.001,0.002,0.003,0.004,0.005,0.006,0.007,0.008,0.009,0.01,0.02,0.03,0.04,0.05,0.06,0.07,0.08,0.09,0.1,0.2,0.3,0.4,0.5,0.6,0.7,0.8,0.9,1,2,3,4,5,6,7,8,9,10,20,30,40,50,60,70,80,90,100,200,300,400,500], "labelExpr": "abs(log(datum.value)/LN10 - round(log(datum.value)/LN10)) < 0.0001 ? ['1m','10m','100m','1','10','100'][round(log(datum.value)/LN10)+3] : (datum.value == 500 ? '500.1' : '')", "labelFlush": false, "gridColor": {"condition": {"test": "abs(log(datum.value)/LN10 - round(log(datum.value)/LN10)) < 0.0001", "value": "#b4b4b4"}, "value": "#cdcdcd"}, "gridWidth": {"condition": {"test": "abs(log(datum.value)/LN10 - round(log(datum.value)/LN10)) < 0.0001", "value": 1.5}, "value": 0.8}, "gridDash": {"condition": {"test": "abs(log(datum.value)/LN10 - round(log(datum.value)/LN10)) < 0.0001", "value": []}, "value": [4, 2]}}},
   "color": {"field": "k", "type": "nominal", "scale": {"domain": ["1d","16d","26d","1s","16s","26s"], "range": ["#1414ff","#137a13","#ff1010","#1414ff","#137a13","#ff1010"]},
     "legend": {"labelExpr": "{'1d':'H_1 DM_Response_Upper_Y Direction Acc.','16d':'H_16 DM_Response_Upper_Y Direction Acc.','26d':'H_26 DM_Response_Upper_Y Direction Acc.','1s':'H_1 SS_Upper_Y Direction Acc.','16s':'H_16 SS_Upper_Y Direction Acc.','26s':'H_26 SS_Upper_Y Direction Acc.'}[datum.label]",
      "encode": {"labels": {"update": {"fill": {"signal": "indexof(['1d','1s'], datum.value) >= 0 ? '#4040ff' : (indexof(['16d','16s'], datum.value) >= 0 ? '#2e8b2e' : '#ff3a3a')"}}}}}}
  }},
 {"width": 277, "height": 182, "data": {"name": "d"}, "transform": [{"filter": "datum.p == 2"}],
  "title": {"text": "상부\u2002빔\u2002작업자\u2002방향"},
  "mark": {"type": "line", "strokeWidth": 1.2, "clip": true, "interpolate": "monotone"},
  "encoding": {
   "x": {"field": "f", "type": "quantitative", "scale": {"domain": [0, 50], "nice": false}, "axis": {"title": "Frequency - Hz", "values": [0,2,4,6,8,10,12,14,16,18,20,22,24,26,28,30,32,34,36,38,40,42,44,46,48,50], "labelExpr": "datum.value % 10 == 0 ? datum.label : ''", "labelFlush": false, "gridColor": {"condition": {"test": "datum.value % 10 == 0", "value": "#b4b4b4"}, "value": "#cdcdcd"}, "gridWidth": {"condition": {"test": "datum.value % 10 == 0", "value": 1.5}, "value": 0.8}, "gridDash": {"condition": {"test": "datum.value % 10 == 0", "value": []}, "value": [4, 2]}}},
   "y": {"field": "v", "type": "quantitative", "scale": {"type": "log", "domain": [0.001, 100], "nice": false}, "axis": {"title": "Log g pk", "values": [0.001,0.002,0.003,0.004,0.005,0.006,0.007,0.008,0.009,0.01,0.02,0.03,0.04,0.05,0.06,0.07,0.08,0.09,0.1,0.2,0.3,0.4,0.5,0.6,0.7,0.8,0.9,1,2,3,4,5,6,7,8,9,10,20,30,40,50,60,70,80,90,100], "labelExpr": "abs(log(datum.value)/LN10 - round(log(datum.value)/LN10)) < 0.0001 ? ['1m','10m','100m','1','10','100'][round(log(datum.value)/LN10)+3] : ''", "labelFlush": false, "gridColor": {"condition": {"test": "abs(log(datum.value)/LN10 - round(log(datum.value)/LN10)) < 0.0001", "value": "#b4b4b4"}, "value": "#cdcdcd"}, "gridWidth": {"condition": {"test": "abs(log(datum.value)/LN10 - round(log(datum.value)/LN10)) < 0.0001", "value": 1.5}, "value": 0.8}, "gridDash": {"condition": {"test": "abs(log(datum.value)/LN10 - round(log(datum.value)/LN10)) < 0.0001", "value": []}, "value": [4, 2]}}},
   "color": {"field": "k", "type": "nominal", "scale": {"domain": ["1d","16d","26d","1s","16s","26s"], "range": ["#1414ff","#137a13","#ff1010","#1414ff","#137a13","#ff1010"]},
     "legend": {"labelExpr": "{'1d':'H_1 DM_Response_Upper_Z Direction Acc.','16d':'H_16 DM_Response_Upper_Z Direction Acc.','26d':'H_26 DM_Response_Upper_Z Direction Acc.','1s':'H_1 SS_Response_Upper_Z Direction Acc.','16s':'H_16 SS_Response_Upper_Z Direction Acc.','26s':'H_26 SS_Response_Upper_Z Direction Acc.'}[datum.label]",
      "encode": {"labels": {"update": {"fill": {"signal": "indexof(['1d','1s'], datum.value) >= 0 ? '#4040ff' : (indexof(['16d','16s'], datum.value) >= 0 ? '#2e8b2e' : '#ff3a3a')"}}}}}}
  }}
 ], "spacing": 2, "resolve": {"scale": {"color": "independent"}, "legend": {"color": "independent"}}},
{"hconcat": [
 {"width": 275, "height": 181, "data": {"name": "d"}, "transform": [{"filter": "datum.p == 3"}],
  "title": {"text": "하부\u2002빔\u2002상하\u2002방향", "offset": 16},
  "mark": {"type": "line", "strokeWidth": 1.2, "clip": true, "interpolate": "monotone"},
  "encoding": {
   "x": {"field": "f", "type": "quantitative", "scale": {"domain": [0, 50], "nice": false}, "axis": {"title": "Frequency - Hz", "values": [0,2,4,6,8,10,12,14,16,18,20,22,24,26,28,30,32,34,36,38,40,42,44,46,48,50], "labelExpr": "datum.value % 10 == 0 ? datum.label : ''", "labelFlush": false, "gridColor": {"condition": {"test": "datum.value % 10 == 0", "value": "#b4b4b4"}, "value": "#cdcdcd"}, "gridWidth": {"condition": {"test": "datum.value % 10 == 0", "value": 1.5}, "value": 0.8}, "gridDash": {"condition": {"test": "datum.value % 10 == 0", "value": []}, "value": [4, 2]}}},
   "y": {"field": "v", "type": "quantitative", "scale": {"type": "log", "domain": [0.001, 100], "nice": false}, "axis": {"title": "Log g pk", "values": [0.001,0.002,0.003,0.004,0.005,0.006,0.007,0.008,0.009,0.01,0.02,0.03,0.04,0.05,0.06,0.07,0.08,0.09,0.1,0.2,0.3,0.4,0.5,0.6,0.7,0.8,0.9,1,2,3,4,5,6,7,8,9,10,20,30,40,50,60,70,80,90,100], "labelExpr": "abs(log(datum.value)/LN10 - round(log(datum.value)/LN10)) < 0.0001 ? ['1m','10m','100m','1','10','100'][round(log(datum.value)/LN10)+3] : ''", "labelFlush": false, "gridColor": {"condition": {"test": "abs(log(datum.value)/LN10 - round(log(datum.value)/LN10)) < 0.0001", "value": "#b4b4b4"}, "value": "#cdcdcd"}, "gridWidth": {"condition": {"test": "abs(log(datum.value)/LN10 - round(log(datum.value)/LN10)) < 0.0001", "value": 1.5}, "value": 0.8}, "gridDash": {"condition": {"test": "abs(log(datum.value)/LN10 - round(log(datum.value)/LN10)) < 0.0001", "value": []}, "value": [4, 2]}}},
   "color": {"field": "k", "type": "nominal", "scale": {"domain": ["1d","16d","26d","1s","16s","26s"], "range": ["#1414ff","#137a13","#ff1010","#1414ff","#137a13","#ff1010"]},
     "legend": {"labelExpr": "{'1d':'H_1 DM_Response_Lower_Y Direction Acc.','16d':'H_16 DM_Response_Lower_Y Direction Acc.','26d':'H_26 DM_Response_Lower_Y Direction Acc.','1s':'H_1 SS_Response_Lower_Y Direction Acc.','16s':'H_16 SS_Response_Lower_Y Direction Acc.','26s':'H_26 SS_Response_Lower_Y Direction Acc.'}[datum.label]",
      "encode": {"labels": {"update": {"fill": {"signal": "indexof(['1d','1s'], datum.value) >= 0 ? '#4040ff' : (indexof(['16d','16s'], datum.value) >= 0 ? '#2e8b2e' : '#ff3a3a')"}}}}}}
  }},
 {"width": 277, "height": 181, "data": {"name": "d"}, "transform": [{"filter": "datum.p == 4"}],
  "title": {"text": "하부\u2002빔\u2002작업자\u2002방향", "offset": 16},
  "mark": {"type": "line", "strokeWidth": 1.2, "clip": true, "interpolate": "monotone"},
  "encoding": {
   "x": {"field": "f", "type": "quantitative", "scale": {"domain": [0, 50], "nice": false}, "axis": {"title": "Frequency - Hz", "values": [0,2,4,6,8,10,12,14,16,18,20,22,24,26,28,30,32,34,36,38,40,42,44,46,48,50], "labelExpr": "datum.value % 10 == 0 ? datum.label : ''", "labelFlush": false, "gridColor": {"condition": {"test": "datum.value % 10 == 0", "value": "#b4b4b4"}, "value": "#cdcdcd"}, "gridWidth": {"condition": {"test": "datum.value % 10 == 0", "value": 1.5}, "value": 0.8}, "gridDash": {"condition": {"test": "datum.value % 10 == 0", "value": []}, "value": [4, 2]}}},
   "y": {"field": "v", "type": "quantitative", "scale": {"type": "log", "domain": [0.001, 100], "nice": false}, "axis": {"title": "Log g pk", "values": [0.001,0.002,0.003,0.004,0.005,0.006,0.007,0.008,0.009,0.01,0.02,0.03,0.04,0.05,0.06,0.07,0.08,0.09,0.1,0.2,0.3,0.4,0.5,0.6,0.7,0.8,0.9,1,2,3,4,5,6,7,8,9,10,20,30,40,50,60,70,80,90,100], "labelExpr": "abs(log(datum.value)/LN10 - round(log(datum.value)/LN10)) < 0.0001 ? ['1m','10m','100m','1','10','100'][round(log(datum.value)/LN10)+3] : ''", "labelFlush": false, "gridColor": {"condition": {"test": "abs(log(datum.value)/LN10 - round(log(datum.value)/LN10)) < 0.0001", "value": "#b4b4b4"}, "value": "#cdcdcd"}, "gridWidth": {"condition": {"test": "abs(log(datum.value)/LN10 - round(log(datum.value)/LN10)) < 0.0001", "value": 1.5}, "value": 0.8}, "gridDash": {"condition": {"test": "abs(log(datum.value)/LN10 - round(log(datum.value)/LN10)) < 0.0001", "value": []}, "value": [4, 2]}}},
   "color": {"field": "k", "type": "nominal", "scale": {"domain": ["1d","16d","26d","1s","16s","26s"], "range": ["#1414ff","#137a13","#ff1010","#1414ff","#137a13","#ff1010"]},
     "legend": {"labelExpr": "{'1d':'H_1 DM_Response_Lower_Z Direction Acc.','16d':'H_16 DM_Response_Lower_Z Direction Acc.','26d':'H_26 DM_Response_Lower_Z Direction Acc.','1s':'H_1 SS_Response_Lower_Z Direction Acc.','16s':'H_16 SS_Response_Lower_Z Direction Acc.','26s':'H_26 SS_Response_Lower_Z Direction Acc.'}[datum.label]",
      "encode": {"labels": {"update": {"fill": {"signal": "indexof(['1d','1s'], datum.value) >= 0 ? '#4040ff' : (indexof(['16d','16s'], datum.value) >= 0 ? '#2e8b2e' : '#ff3a3a')"}}}}}}
  }}
 ], "spacing": 2, "resolve": {"scale": {"color": "independent"}, "legend": {"color": "independent"}}}
]
}
